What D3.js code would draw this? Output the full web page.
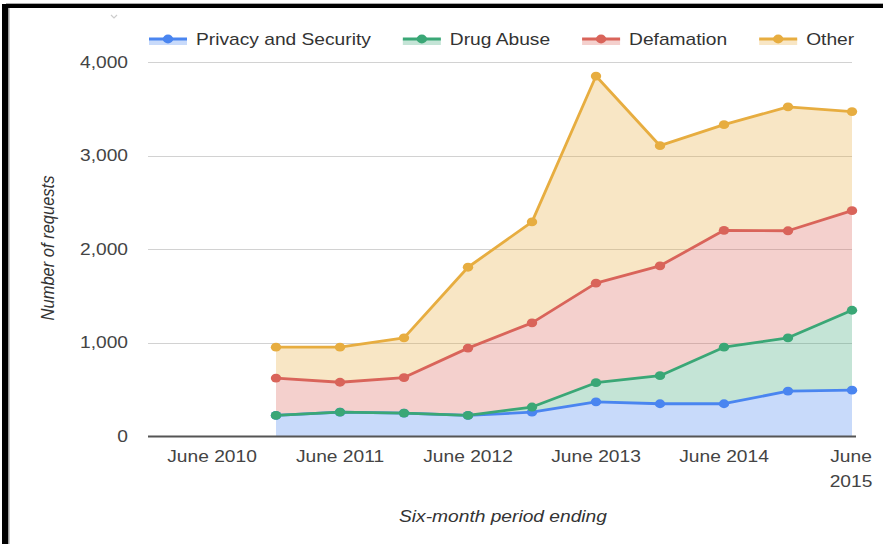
<!DOCTYPE html>
<html>
<head>
<meta charset="utf-8">
<script src="https://cdn.jsdelivr.net/npm/d3@7"></script>
<style>
  html, body { margin: 0; padding: 0; background: #fff; }
  svg { display: block; }
  text { font-family: "Liberation Sans", Arial, sans-serif; }
</style>
</head>
<body>
<svg id="chart" width="883" height="544"></svg>
<script>
// ---- data ----
const slots = ["Dec 2009","June 2010","Dec 2010","June 2011","Dec 2011","June 2012","Dec 2012","June 2013","Dec 2013","June 2014","Dec 2014","June 2015"];
const periods = ["Dec 2010","June 2011","Dec 2011","June 2012","Dec 2012","June 2013","Dec 2013","June 2014","Dec 2014","June 2015"];
const seriesNames = ["Privacy and Security","Drug Abuse","Defamation","Other"];
const privacy    = [220, 255, 245, 220, 255, 365, 345, 345, 480, 490];
const drugAbuse  = [0, 0, 0, 0, 55, 205, 300, 605, 570, 855];
const defamation = [400, 320, 380, 720, 900, 1065, 1175, 1250, 1145, 1065];
const other      = [330, 375, 425, 865, 1080, 2215, 1285, 1130, 1325, 1060];
const yTicks = [0, 1000, 2000, 3000, 4000];
const xTickSlots = ["June 2010","June 2011","June 2012","June 2013","June 2014","June 2015"];
const xTickLabels = [["June 2010"],["June 2011"],["June 2012"],["June 2013"],["June 2014"],["June","2015"]];
const colors = ["#4a85f0","#3aa776","#d9645a","#e7ad40"];

const table = periods.map((p, i) => ({
  period: p,
  "Privacy and Security": privacy[i],
  "Drug Abuse": drugAbuse[i],
  "Defamation": defamation[i],
  "Other": other[i]
}));

const SX = 1.2; // horizontal stretch of the reference
const svg = d3.select("#chart");

// frame
svg.append("rect").attr("x", 6).attr("y", 3).attr("width", 877).attr("height", 1).attr("fill", "#aaa");
svg.append("rect").attr("x", 8).attr("y", 8).attr("width", 1.5).attr("height", 536).attr("fill", "#999");
svg.append("rect").attr("x", 2).attr("y", 4).attr("width", 881).attr("height", 4).attr("fill", "#000");
svg.append("rect").attr("x", 2).attr("y", 4).attr("width", 6).attr("height", 540).attr("fill", "#000");
svg.append("path").attr("d", "M111,15 L114,18 L117,15").attr("fill", "none").attr("stroke", "#ccc").attr("stroke-width", 1.2);

const x = d3.scalePoint().domain(slots).range([148, 852]);
const y = d3.scaleLinear().domain([0, 4000]).range([436, 62]);

function stretchedText(g, tx, ty, str, anchor, size, color, italic) {
  return g.append("text")
    .attr("transform", `translate(${tx},${ty}) scale(${SX},1)`)
    .attr("text-anchor", anchor)
    .attr("font-size", size)
    .attr("font-style", italic ? "italic" : "normal")
    .attr("fill", color)
    .text(str);
}

// gridlines
const grid = svg.append("g");
grid.selectAll("line").data(yTicks.filter(d => d > 0)).join("line")
  .attr("x1", 148).attr("x2", 852)
  .attr("y1", d => Math.round(y(d)) + 0.5).attr("y2", d => Math.round(y(d)) + 0.5)
  .attr("stroke", "#d2d2d2").attr("stroke-width", 1);

// y tick labels
const yl = svg.append("g");
yTicks.forEach(t => stretchedText(yl, 128, y(t) + 5.5, d3.format(",")(t), "end", 16, "#444"));

// stacked areas
const stack = d3.stack().keys(seriesNames);
const stacked = stack(table);

const area = d3.area()
  .x(d => x(d.data.period))
  .y0(d => y(d[0]))
  .y1(d => y(d[1]));
const line = d3.line()
  .x(d => x(d.data.period))
  .y(d => y(d[1]));

svg.append("g").selectAll("path").data(stacked).join("path")
  .attr("d", area)
  .attr("fill", (d, i) => colors[i])
  .attr("fill-opacity", 0.3);

// baseline
svg.append("line").attr("x1", 148).attr("x2", 856).attr("y1", y(0) + 0.5).attr("y2", y(0) + 0.5)
  .attr("stroke", "#555").attr("stroke-width", 2);

// lines
svg.append("g").selectAll("path").data(stacked).join("path")
  .attr("d", line)
  .attr("fill", "none")
  .attr("stroke", (d, i) => colors[i])
  .attr("stroke-width", 2.8)
  .attr("stroke-linejoin", "round");

// dots
stacked.forEach((s, i) => {
  svg.append("g").selectAll("ellipse").data(s).join("ellipse")
    .attr("cx", d => x(d.data.period))
    .attr("cy", d => y(d[1]))
    .attr("rx", 5.2).attr("ry", 4.4)
    .attr("fill", colors[i]);
});

// x tick labels
const xl = svg.append("g");
xTickSlots.forEach((s, i) => {
  const lines = xTickLabels[i];
  const cx = (i === xTickSlots.length - 1) ? x(s) - 1 : x(s);
  lines.forEach((ln, j) => stretchedText(xl, cx, 462 + j * 25, ln, "middle", 16, "#444"));
});

// axis titles
stretchedText(svg, 503, 522, "Six-month period ending", "middle", 16, "#333", true);
svg.append("text")
  .attr("transform", "translate(54,248) rotate(-90) scale(1,1.15)")
  .attr("text-anchor", "middle")
  .attr("font-size", 16.5)
  .attr("font-style", "italic")
  .attr("fill", "#333")
  .text("Number of requests");

// legend
const lg = svg.append("g");
let lx = 149;
seriesNames.forEach((name, i) => {
  lg.append("rect").attr("x", lx).attr("y", 39).attr("width", 38).attr("height", 6)
    .attr("fill", colors[i]).attr("fill-opacity", 0.3);
  lg.append("line").attr("x1", lx).attr("x2", lx + 38).attr("y1", 39).attr("y2", 39)
    .attr("stroke", colors[i]).attr("stroke-width", 2.8);
  lg.append("ellipse").attr("cx", lx + 19).attr("cy", 39).attr("rx", 5.2).attr("ry", 4.4).attr("fill", colors[i]);
  const t = stretchedText(lg, lx + 47, 45, name, "start", 16, "#333");
  const w = t.node().getComputedTextLength() * SX;
  lx = lx + 47 + w + 32;
});
</script>
</body>
</html>
